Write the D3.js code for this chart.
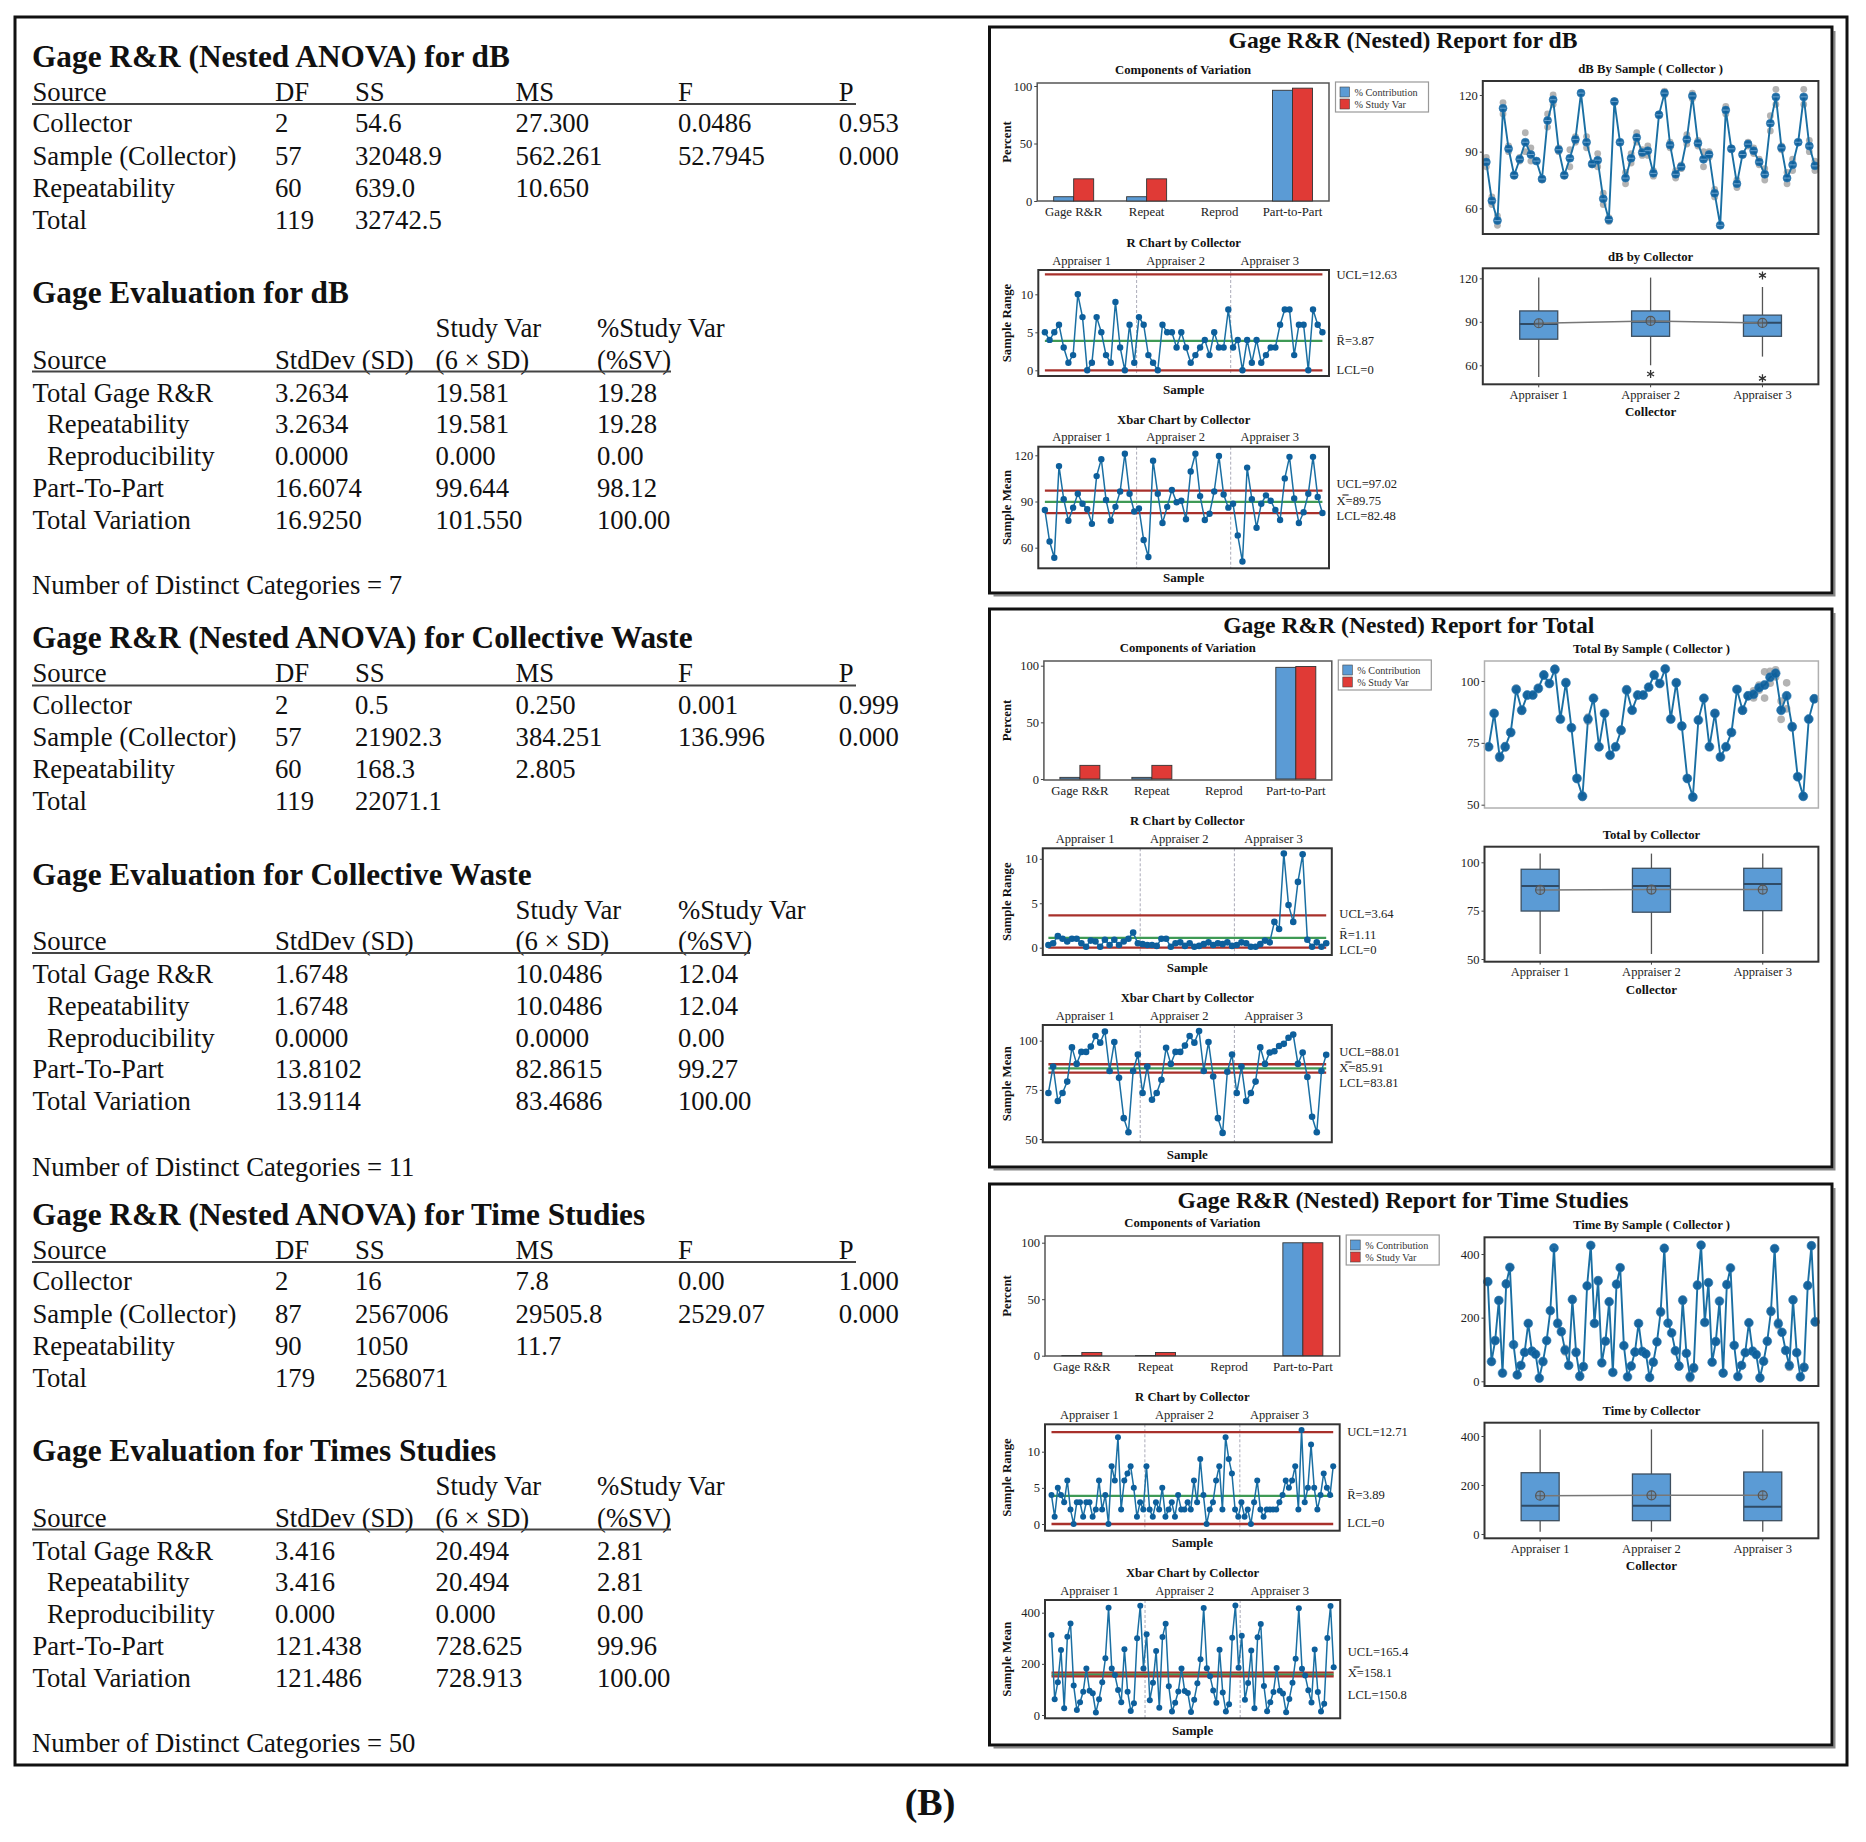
<!DOCTYPE html>
<html><head><meta charset="utf-8">
<script src="https://cdn.jsdelivr.net/npm/d3@7"></script>
<style>body{margin:0;background:#fff}</style>
</head><body><script>
// ================= DATA =================
const anovaCols = ["Source","DF","SS","MS","F","P"];
const anovaDB = [["Collector","2","54.6","27.300","0.0486","0.953"],["Sample (Collector)","57","32048.9","562.261","52.7945","0.000"],["Repeatability","60","639.0","10.650","",""],["Total","119","32742.5","","",""]];
const anovaWaste = [["Collector","2","0.5","0.250","0.001","0.999"],["Sample (Collector)","57","21902.3","384.251","136.996","0.000"],["Repeatability","60","168.3","2.805","",""],["Total","119","22071.1","","",""]];
const anovaTime = [["Collector","2","16","7.8","0.00","1.000"],["Sample (Collector)","87","2567006","29505.8","2529.07","0.000"],["Repeatability","90","1050","11.7","",""],["Total","179","2568071","","",""]];
const evalNames = ["Total Gage R&R","Repeatability","Reproducibility","Part-To-Part","Total Variation"];
const evalIndent = [0,1,1,0,0];
const evalDB = [["3.2634","19.581","19.28"],["3.2634","19.581","19.28"],["0.0000","0.000","0.00"],["16.6074","99.644","98.12"],["16.9250","101.550","100.00"]];
const evalWaste = [["1.6748","10.0486","12.04"],["1.6748","10.0486","12.04"],["0.0000","0.0000","0.00"],["13.8102","82.8615","99.27"],["13.9114","83.4686","100.00"]];
const evalTime = [["3.416","20.494","2.81"],["3.416","20.494","2.81"],["0.000","0.000","0.00"],["121.438","728.625","99.96"],["121.486","728.913","100.00"]];
const sectionTitles = ["Gage R&R (Nested ANOVA) for dB","Gage R&R (Nested ANOVA) for Collective Waste","Gage R&R (Nested ANOVA) for Time Studies"];
const evalTitles = ["Gage Evaluation for dB","Gage Evaluation for Collective Waste","Gage Evaluation for Times Studies"];
const ndcTexts = ["Number of Distinct Categories = 7","Number of Distinct Categories = 11","Number of Distinct Categories = 50"];

const compCats = ["Gage R&R","Repeat","Reprod","Part-to-Part"];
const appraisers = ["Appraiser 1","Appraiser 2","Appraiser 3"];
const contribDB = [3.72,3.72,0,96.28],  studyVarDB = [19.28,19.28,0,98.12];
const contribTot = [1.45,1.45,0,98.55], studyVarTot = [12.04,12.04,0,99.27];
const contribTime = [0.08,0.08,0,99.92], studyVarTime = [2.81,2.81,0,99.96];

const dbMeans = [84.5,64,53.5,113,91.5,77.5,86,95,88.5,85,75.5,106.5,117.5,91,77.5,86.5,96.5,121,95,83.5,
  85.5,65,54,116.5,95,76,86.5,97.5,89.5,90.5,78.5,109.5,121,93.5,78,82,96.5,119.5,94.5,86,
  88.5,68,51,112,91.5,73,88.5,94,90.5,84.5,78,105,119,92,76,83,95,119,93,82.5];
const dbRanges = [5,4,5,6,3,1,2,10,7,0,1,7,5,2,1,9,3,0,6,1,
  7,6,2,1,0,6,5,5,3,5,3,1,2,3,4,2,5,3,3,8,
  3,4,0,4,1,4,1,2,3,3,6,8,8,2,6,6,0,8,6,5];
const dbLimR = [12.63,3.87,0], dbLimX = [97.02,89.75,82.48];
const dbLabR = ["UCL=12.63","R\u0304=3.87","LCL=0"], dbLabX = ["UCL=97.02","X\u033F=89.75","LCL=82.48"];
const dbBox = [[52,78,88.5,97.5,120.5,89],[60,80,90,97.5,120.5,90.6],[66,80,89.3,94.6,114,89.2]];
const dbOut = [[],[54],[122,51]];

const totMeans = [73.4,86.9,69.3,73.4,79.2,96.6,88.2,94.3,94.3,97,102.4,99,104.7,84.6,99.3,81.1,60.6,53.4,84.6,93,
  73.4,86.9,70,73.4,80.1,96.4,88.2,94.3,94.3,97.5,102.4,99,104.9,84.6,99.3,81.8,60.6,53.1,84.2,93,
  73.4,86.9,69.3,73.4,79.2,96.6,88.2,94,94.6,97.3,98.4,101.5,103.1,88.2,94,81.5,61.3,53.4,84.6,92.8];
const totRanges = [0.3,0.5,1.3,1.0,0.7,1.0,1.0,0.5,0.1,0.8,0.7,0.1,0.9,0.3,0.9,0.3,0.7,1.0,1.7,0.5,
  0.4,0.3,0.3,0.2,1.0,1.0,0.1,0.5,0.6,0.2,0.5,0.1,0.2,0.4,0.6,0.3,0.5,0.4,0.6,0.2,
  0.3,0.6,0.5,0.1,0.1,0.4,0.8,0.6,2.9,2.1,10.6,4.8,2.9,7.4,10.5,0.9,0.1,0.6,0.1,0.5];
const totLimR = [3.64,1.11,0], totLimX = [88.01,85.91,83.81];
const totLabR = ["UCL=3.64","R\u0304=1.11","LCL=0"], totLabX = ["UCL=88.01","X\u033F=85.91","LCL=83.81"];
const totBox = [[52.6,74.8,87.8,96.4,104.5,85.7],[52.6,74.2,87.8,96.9,104.5,85.9],[52.6,75,88.8,96.9,104.5,85.9]];
const totOut = [[],[],[]];

const timeMeans = [313,62,128,254,26,306,358,115,20,50,91,182,95,85,10,62,128,222,419,182,156,98,50,257,91,16,46,300,427,182,
  316,58,126,250,28,305,357,112,14,48,92,182,94,86,12,60,124,218,418,183,152,96,48,255,88,14,42,302,428,185,
  310,60,125,252,26,304,356,113,15,50,90,184,95,84,11,63,126,220,417,181,154,97,49,256,90,14,44,301,426,187];
const timeRanges = [4,1,5,4,3,6,2,0,3,3,1,3,3,1,2,6,2,4,0,8,6,12,2,6,7,8,5,1,3,2,
  8,2,1,3,2,5,1,2,3,1,4,2,2,3,2,6,3,9,4,0,2,3,6,8,2,12,9,7,2,1,
  3,1,2,0,3,6,2,1,2,2,2,2,3,4,6,5,6,8,2,13,3,5,11,5,2,4,7,5,4,8];
const timeLimR = [12.71,3.89,0], timeLimX = [165.4,158.1,150.8];
const timeLabR = ["UCL=12.71","R\u0304=3.89","LCL=0"], timeLabX = ["UCL=165.4","X\u033F=158.1","LCL=150.8"];
const timeBox = [[9.4,54.3,115.5,250.2,427,156.3],[9.4,54.3,115.5,244.9,427,158],[9.4,54.3,111.4,253,427,158]];
const timeOut = [[],[],[]];

// ================= STYLE / LAYOUT =================
const W = 1866, H = 1842;
const SERIF = "'Liberation Serif','Times New Roman',Times,serif";
const BLUE = '#5b9bd5', RED = '#e03a36', LINE = '#1a6fa3', DOT = '#0d5f9c', LIMC = '#a8302b', CLC = '#3f9a55';

const svg = d3.select('body').append('svg').attr('width', W).attr('height', H);
svg.append('rect').attr('width', W).attr('height', H).attr('fill', '#fff');

function txt(g, x, y, s, fs, weight, anchor, fill) {
  return g.append('text').attr('x', x).attr('y', y).attr('font-size', fs)
    .attr('font-weight', weight || 'normal').attr('text-anchor', anchor || 'middle')
    .attr('dominant-baseline', 'central').attr('fill', fill || '#111')
    .attr('font-family', SERIF).text(s);
}
function vtxt(g, x, y, s, fs, weight) {
  return g.append('text').attr('transform', `translate(${x},${y}) rotate(-90)`)
    .attr('font-size', fs).attr('font-weight', weight || 'normal').attr('text-anchor', 'middle')
    .attr('dominant-baseline', 'central').attr('fill', '#111').attr('font-family', SERIF).text(s);
}
function frame(g, r, color, w) {
  g.append('rect').attr('x', r[0]).attr('y', r[1]).attr('width', r[2] - r[0]).attr('height', r[3] - r[1])
    .attr('fill', 'none').attr('stroke', color).attr('stroke-width', w);
}
function yAxis(g, y, x, ticks) {
  const a = g.append('g').attr('transform', `translate(${x},0)`)
    .call(d3.axisLeft(y).tickValues(ticks).tickSize(3).tickPadding(2).tickFormat(d3.format('d')));
  a.select('.domain').remove();
  a.selectAll('line').attr('stroke', '#444');
  a.selectAll('text').attr('font-size', 12.5).attr('font-family', SERIF).attr('fill', '#222');
}
function linScale(ref) {
  return d3.scaleLinear().domain([ref[0][0], ref[1][0]]).range([ref[0][1], ref[1][1]]);
}

// outer border
svg.append('rect').attr('x', 15).attr('y', 17).attr('width', 1832).attr('height', 1748)
  .attr('fill', 'none').attr('stroke', '#111').attr('stroke-width', 3);

// ================= LEFT TABLES =================
const anovaX = [32.5, 275, 355, 515.6, 678, 838.7];
const secTops = [56, 637.5, 1214];
const evalXs = [[32.5, 275, 435.6, 597], [32.5, 275, 515.6, 678], [32.5, 275, 435.6, 597]];
const evalEnds = [671, 750, 671];
const anovaData = [anovaDB, anovaWaste, anovaTime];
const evalData = [evalDB, evalWaste, evalTime];
const BODY = 26.7, TITLE = 31.3;

secTops.forEach((top, s) => {
  const g = svg.append('g');
  txt(g, 32, top, sectionTitles[s], TITLE, 'bold', 'start');
  anovaCols.forEach((c, i) => txt(g, anovaX[i], top + 35.7, c, BODY, null, 'start'));
  g.append('line').attr('x1', 32).attr('x2', 856).attr('y1', top + 48).attr('y2', top + 48)
    .attr('stroke', '#444').attr('stroke-width', 2.2);
  anovaData[s].forEach((row, j) => row.forEach((c, i) => txt(g, anovaX[i], top + 67.3 + 32.2 * j, c, BODY, null, 'start')));
  txt(g, 32, top + 236.5, evalTitles[s], TITLE, 'bold', 'start');
  const ex = evalXs[s];
  txt(g, ex[2], top + 272, 'Study Var', BODY, null, 'start');
  txt(g, ex[3], top + 272, '%Study Var', BODY, null, 'start');
  ['Source', 'StdDev (SD)', '(6 \u00D7 SD)', '(%SV)'].forEach((c, i) => txt(g, ex[i], top + 303.7, c, BODY, null, 'start'));
  g.append('line').attr('x1', 32).attr('x2', evalEnds[s]).attr('y1', top + 315.5).attr('y2', top + 315.5)
    .attr('stroke', '#444').attr('stroke-width', 2.2);
  evalNames.forEach((nm, j) => {
    const y = top + 336.5 + 31.8 * j;
    txt(g, evalIndent[j] ? 47 : 32.5, y, nm, BODY, null, 'start');
    evalData[s][j].forEach((v, i) => txt(g, ex[i + 1], y, v, BODY, null, 'start'));
  });
  txt(g, 32, top + 529, ndcTexts[s], BODY, null, 'start');
});

txt(svg, 930, 1802, '(B)', 38, 'bold');

// ================= RIGHT PANELS =================
function compChart(g, L, contrib, sv) {
  const r = L.comp;
  const x = d3.scaleBand().domain(compCats).range([r[0], r[2]]);
  const y = linScale(L.compRef);
  txt(g, (r[0] + r[2]) / 2, r[1] - 13, 'Components of Variation', 12.7, 'bold');
  frame(g, r, '#555', 1.5);
  const bw = 20;
  g.selectAll(null).data(contrib).enter().append('rect')
    .attr('x', (d, i) => x(compCats[i]) + x.bandwidth() / 2 - bw).attr('y', d => y(d))
    .attr('width', bw).attr('height', d => y(0) - y(d))
    .attr('fill', BLUE).attr('stroke', '#333').attr('stroke-width', 0.9);
  g.selectAll(null).data(sv).enter().append('rect')
    .attr('x', (d, i) => x(compCats[i]) + x.bandwidth() / 2).attr('y', d => y(d))
    .attr('width', bw).attr('height', d => y(0) - y(d))
    .attr('fill', RED).attr('stroke', '#333').attr('stroke-width', 0.9);
  compCats.forEach(c => txt(g, x(c) + x.bandwidth() / 2, r[3] + 10.5, c, 12.8, null, 'middle', '#222'));
  yAxis(g, y, r[0], [0, 50, 100]);
  vtxt(g, 1007, (r[1] + r[3]) / 2, 'Percent', 12.8, 'bold');
  const lx = r[2] + 6.5, ly = r[1] - 1;
  g.append('rect').attr('x', lx).attr('y', ly).attr('width', 93).attr('height', 30)
    .attr('fill', '#fff').attr('stroke', '#999').attr('stroke-width', 1.2);
  [[BLUE, '% Contribution'], [RED, '% Study Var']].forEach((e, i) => {
    g.append('rect').attr('x', lx + 4.5).attr('y', ly + 5 + i * 12).attr('width', 9.5).attr('height', 10)
      .attr('fill', e[0]).attr('stroke', '#444').attr('stroke-width', 0.6);
    txt(g, lx + 19, ly + 10 + i * 12, e[1], 10.2, null, 'start', '#333');
  });
}

function bySample(g, L, means, ranges, title) {
  const r = L.bys;
  const n = means.length;
  const x = d3.scalePoint().domain(d3.range(n)).range([r[0], r[2]]).padding(L.bysPad);
  const y = linScale(L.bysRef);
  txt(g, (r[0] + r[2]) / 2, r[1] - 12, title, 12.7, 'bold');
  const reps = [];
  means.forEach((m, i) => { if (ranges[i] > 0) { reps.push([i, m - ranges[i] / 2]); reps.push([i, m + ranges[i] / 2]); } });
  g.selectAll(null).data(reps).enter().append('circle')
    .attr('cx', d => x(d[0])).attr('cy', d => y(d[1])).attr('r', L.bysR * 0.85)
    .attr('fill', '#a6a6a6').attr('opacity', 0.85);
  g.append('path').datum(means).attr('d', d3.line().x((d, i) => x(i)).y(d => y(d)))
    .attr('fill', 'none').attr('stroke', LINE).attr('stroke-width', 1.9);
  g.selectAll(null).data(means).enter().append('circle')
    .attr('cx', (d, i) => x(i)).attr('cy', d => y(d)).attr('r', L.bysR)
    .attr('fill', DOT).attr('fill-opacity', 0.92).attr('stroke', '#2a7ab5').attr('stroke-width', 0.6);
  if (L.cross) {
    g.selectAll(null).data(means).enter().append('line')
      .attr('x1', (d, i) => x(i) - L.bysR + 0.8).attr('x2', (d, i) => x(i) + L.bysR - 0.8)
      .attr('y1', d => y(d)).attr('y2', d => y(d)).attr('stroke', '#7fb3da').attr('stroke-width', 0.8);
  }
  frame(g, r, L.bysFrame, L.bysFrameW);
  yAxis(g, y, r[0], L.ticks);
}

function ctrlChart(g, r, ref, ticks, vals, limits, labels, labY, pad, rad, title, ylab, sampleY) {
  const n = vals.length, gs = n / 3;
  const x = d3.scalePoint().domain(d3.range(n)).range([r[0], r[2]]).padding(pad);
  const y = linScale(ref);
  txt(g, (r[0] + r[2]) / 2, r[1] - 27, title, 12.7, 'bold');
  appraisers.forEach((a, i) => txt(g, (x(i * gs) + x((i + 1) * gs - 1)) / 2 - 8, r[1] - 9.3, a, 12.5, null, 'middle', '#222'));
  [1, 2].forEach(k => {
    const sx = (x(k * gs - 1) + x(k * gs)) / 2;
    g.append('line').attr('x1', sx).attr('x2', sx).attr('y1', r[1]).attr('y2', r[3])
      .attr('stroke', '#a0a0b0').attr('stroke-dasharray', '3,2').attr('stroke-width', 0.9);
  });
  limits.forEach((v, i) => g.append('line').attr('x1', x(0)).attr('x2', x(n - 1))
    .attr('y1', y(v)).attr('y2', y(v)).attr('stroke', i === 1 ? CLC : LIMC).attr('stroke-width', 2.3));
  g.append('path').datum(vals).attr('d', d3.line().x((d, i) => x(i)).y(d => y(d)))
    .attr('fill', 'none').attr('stroke', LINE).attr('stroke-width', 1.5);
  g.selectAll(null).data(vals).enter().append('circle')
    .attr('cx', (d, i) => x(i)).attr('cy', d => y(d)).attr('r', rad).attr('fill', DOT);
  frame(g, r, '#333', 2);
  yAxis(g, y, r[0], ticks);
  labels.forEach((t, i) => txt(g, r[2] + 7.5, labY[i], t, 12.6, null, 'start', '#222'));
  txt(g, (r[0] + r[2]) / 2, sampleY, 'Sample', 13, 'bold');
  vtxt(g, 1007, (r[1] + r[3]) / 2, ylab, 12.8, 'bold');
}

function boxChart(g, L, stats, outs, title) {
  const r = L.box;
  const x = d3.scalePoint().domain(appraisers).range([r[0], r[2]]).padding(0.5);
  const y = linScale(L.boxRef);
  txt(g, (r[0] + r[2]) / 2, r[1] - 11.5, title, 12.7, 'bold');
  const bw = 38;
  stats.forEach((s, i) => {
    const cx = x(appraisers[i]);
    g.append('line').attr('x1', cx).attr('x2', cx).attr('y1', y(s[0])).attr('y2', y(s[1])).attr('stroke', '#555').attr('stroke-width', 1.3);
    g.append('line').attr('x1', cx).attr('x2', cx).attr('y1', y(s[3])).attr('y2', y(s[4])).attr('stroke', '#555').attr('stroke-width', 1.3);
    g.append('rect').attr('x', cx - bw / 2).attr('y', y(s[3])).attr('width', bw).attr('height', y(s[1]) - y(s[3]))
      .attr('fill', BLUE).attr('stroke', '#3d4f60').attr('stroke-width', 1.3);
    g.append('line').attr('x1', cx - bw / 2).attr('x2', cx + bw / 2).attr('y1', y(s[2])).attr('y2', y(s[2]))
      .attr('stroke', '#2f4b66').attr('stroke-width', 2);
    outs[i].forEach(o => g.append('path').attr('d', d3.symbol(d3.symbolAsterisk, 45)())
      .attr('transform', `translate(${cx},${y(o)})`).attr('fill', 'none').attr('stroke', '#333').attr('stroke-width', 1.3));
  });
  g.append('path').datum(stats).attr('d', d3.line().x((d, i) => x(appraisers[i])).y(d => y(d[5])))
    .attr('fill', 'none').attr('stroke', '#777').attr('stroke-width', 1.6);
  stats.forEach((s, i) => {
    const cx = x(appraisers[i]), cy = y(s[5]);
    g.append('circle').attr('cx', cx).attr('cy', cy).attr('r', 4.5).attr('fill', '#7a8a99').attr('fill-opacity', 0.5).attr('stroke', '#555').attr('stroke-width', 1.2);
    g.append('line').attr('x1', cx - 4.5).attr('x2', cx + 4.5).attr('y1', cy).attr('y2', cy).attr('stroke', '#555').attr('stroke-width', 0.8);
    g.append('line').attr('x1', cx).attr('x2', cx).attr('y1', cy - 4.5).attr('y2', cy + 4.5).attr('stroke', '#555').attr('stroke-width', 0.8);
  });
  frame(g, r, '#333', 2);
  yAxis(g, y, r[0], L.ticks);
  appraisers.forEach(a => {
    g.append('line').attr('x1', x(a)).attr('x2', x(a)).attr('y1', r[3]).attr('y2', r[3] + 3).attr('stroke', '#444');
    txt(g, x(a), r[3] + 10.5, a, 12.5, null, 'middle', '#222');
  });
  txt(g, (r[0] + r[2]) / 2, r[3] + 27.3, 'Collector', 13, 'bold');
}

const layouts = [
  { titleY: 40, titleX: 1403,
    comp: [1037.2, 83, 1329, 201], compRef: [[0, 201], [100, 86]],
    bys: [1482.8, 81, 1818.4, 234], bysRef: [[60, 208.3], [120, 95]], bysPad: 0.63, bysR: 4, cross: true, bysFrame: '#333', bysFrameW: 2,
    r: [1038.3, 270, 1329, 376], rRef: [[0, 370.3], [10, 294.3]], rLabY: [275, 341, 370], rSampleY: 389.3,
    xb: [1038.3, 446.7, 1329, 568.3], xbRef: [[60, 547.7], [120, 455.3]], xbLabY: [484, 501, 516], xbSampleY: 577,
    ctrlPad: 1.4, ctrlR: 3.2,
    box: [1482.8, 268.3, 1818.4, 384.3], boxRef: [[60, 365.3], [120, 278.3]], ticks: [60, 90, 120] },
  { titleY: 625, titleX: 1408.7,
    comp: [1043.9, 661, 1331.8, 780], compRef: [[0, 779], [100, 665.7]],
    bys: [1484.5, 661, 1818.4, 808], bysRef: [[50, 804.7], [100, 681]], bysPad: 0.75, bysR: 4.5, cross: false, bysFrame: '#b0b0b0', bysFrameW: 1.5,
    r: [1042.8, 848.3, 1331.8, 955], rRef: [[0, 947.7], [10, 858.8]], rLabY: [914, 934.5, 949.5], rSampleY: 967.3,
    xb: [1042.8, 1025, 1331.8, 1142.3], xbRef: [[50, 1139], [100, 1040.7]], xbLabY: [1052.3, 1067.7, 1083.3], xbSampleY: 1154,
    ctrlPad: 1.19, ctrlR: 3.3,
    box: [1484.5, 846.7, 1818.4, 961.7], boxRef: [[50, 959], [100, 862.3]], ticks: [50, 75, 100] },
  { titleY: 1200, titleX: 1403,
    comp: [1045, 1236, 1339.7, 1356], compRef: [[0, 1355.7], [100, 1242.7]],
    bys: [1484.5, 1237.3, 1818.4, 1386], bysRef: [[0, 1381.3], [400, 1254]], bysPad: 0.9, bysR: 4.4, cross: false, bysFrame: '#333', bysFrameW: 2,
    r: [1045, 1424.3, 1339.7, 1530.7], rRef: [[0, 1524], [10, 1451.7]], rLabY: [1431.7, 1495, 1523.3], rSampleY: 1542.7,
    xb: [1045, 1600, 1340.2, 1718.3], xbRef: [[0, 1715], [400, 1612.7]], xbLabY: [1652.3, 1673.3, 1695], xbSampleY: 1730,
    ctrlPad: 2.05, ctrlR: 3,
    box: [1484.5, 1422.7, 1818.4, 1538.3], boxRef: [[0, 1534], [400, 1436]], ticks: [0, 200, 400] }
];
const panelBoxes = [[989.5, 27, 1832, 593], [989.5, 609, 1832, 1167], [989.5, 1184, 1832, 1745]];
const panelData = [
  { title: 'Gage R&R (Nested) Report for dB', contrib: contribDB, sv: studyVarDB, means: dbMeans, ranges: dbRanges,
    bysTitle: 'dB By Sample ( Collector )', limR: dbLimR, labR: dbLabR, limX: dbLimX, labX: dbLabX, rTicks: [0, 5, 10],
    boxStats: dbBox, outs: dbOut, boxTitle: 'dB by Collector' },
  { title: 'Gage R&R (Nested) Report for Total', contrib: contribTot, sv: studyVarTot, means: totMeans, ranges: totRanges,
    bysTitle: 'Total By Sample ( Collector )', limR: totLimR, labR: totLabR, limX: totLimX, labX: totLabX, rTicks: [0, 5, 10],
    boxStats: totBox, outs: totOut, boxTitle: 'Total by Collector' },
  { title: 'Gage R&R (Nested) Report for Time Studies', contrib: contribTime, sv: studyVarTime, means: timeMeans, ranges: timeRanges,
    bysTitle: 'Time By Sample ( Collector )', limR: timeLimR, labR: timeLabR, limX: timeLimX, labX: timeLabX, rTicks: [0, 5, 10],
    boxStats: timeBox, outs: timeOut, boxTitle: 'Time by Collector' }
];

layouts.forEach((L, p) => {
  const D = panelData[p];
  const g = svg.append('g');
  const pb = panelBoxes[p];
  g.append('path').attr('d', `M${pb[2] + 2.5},${pb[1] + 4}V${pb[3] + 2.5}H${pb[0] + 4}`)
    .attr('fill', 'none').attr('stroke', '#888').attr('stroke-width', 2);
  frame(g, pb, '#111', 3);
  txt(g, L.titleX, L.titleY, D.title, 23.6, 'bold');
  compChart(g, L, D.contrib, D.sv);
  bySample(g, L, D.means, D.ranges, D.bysTitle);
  ctrlChart(g, L.r, L.rRef, D.rTicks, D.ranges, D.limR, D.labR, L.rLabY, L.ctrlPad, L.ctrlR, 'R Chart by Collector', 'Sample Range', L.rSampleY);
  ctrlChart(g, L.xb, L.xbRef, L.ticks, D.means, D.limX, D.labX, L.xbLabY, L.ctrlPad, L.ctrlR, 'Xbar Chart by Collector', 'Sample Mean', L.xbSampleY);
  boxChart(g, L, D.boxStats, D.outs, D.boxTitle);
});
</script></body></html>
